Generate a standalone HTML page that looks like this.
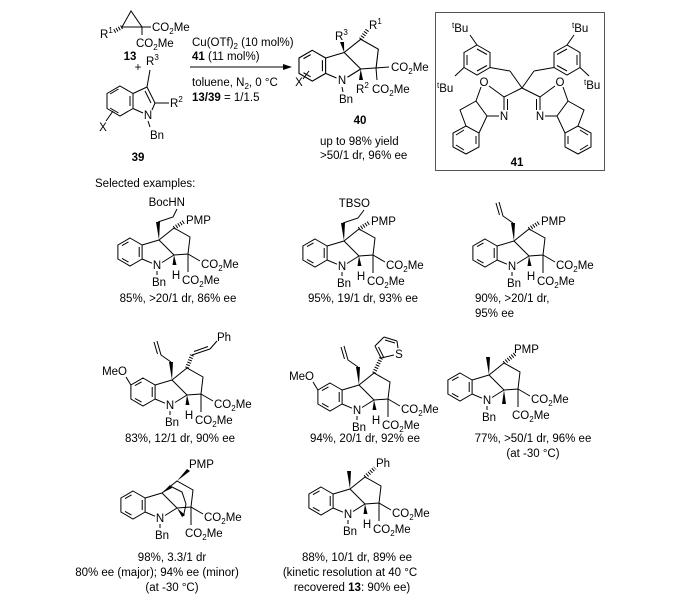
<!DOCTYPE html>
<html><head><meta charset="utf-8"><style>
html,body{margin:0;padding:0;background:#fff}
svg{display:block}
text{font-family:"Liberation Sans",Arial,sans-serif;font-size:11.5px;fill:#000}
.c{text-anchor:middle}
.e{text-anchor:end}
.b{font-weight:bold}
line,polyline,polygon.r{stroke:#000;stroke-width:1;fill:none}
.w{fill:#000;stroke:none}
.h{stroke:#000;stroke-width:4;stroke-dasharray:1 1.6;fill:none}
</style></head><body>
<svg width="700" height="603" viewBox="0 0 700 603" xmlns="http://www.w3.org/2000/svg">
<defs>
<g id="ring">
<polygon class="r" points="-27,-27 -14.9,-20 -14.9,-6 -27,1 -39.1,-6 -39.1,-20"/>
<line x1="-17.8" y1="-18" x2="-17.8" y2="-8"/>
<line x1="-28.5" y1="-2.9" x2="-35" y2="-6.6"/>
<line x1="-35" y1="-19.4" x2="-28.5" y2="-23.1"/>
<line x1="-14.9" y1="-20" x2="2" y2="-25"/>
<line x1="2" y1="-25" x2="17" y2="-10"/>
<line x1="17" y1="-10" x2="5" y2="-2.5"/>
<line x1="-14.9" y1="-6" x2="-5" y2="-1.8"/>
<polyline points="2,-25 17,-37 33,-28 31,-11 17,-10"/>
</g>
<g id="core">
<use href="#ring"/>
<line x1="0" y1="6" x2="0" y2="10"/>
<line x1="31" y1="-11" x2="43" y2="-4"/>
<line x1="31" y1="-11" x2="31" y2="7"/>
</g>
</defs>

<polygon class="r" points="122,27 131,11 142,27"/>
<line x1="142" y1="27" x2="151" y2="27"/>
<line x1="142" y1="27" x2="142" y2="35"/>
<line class="h" x1="122" y1="27" x2="113" y2="32"/>
<text x="100" y="38">R<tspan font-size="8" dy="-5">1</tspan></text>
<text x="152" y="31">CO<tspan font-size="8" dy="3">2</tspan><tspan dy="-3">Me</tspan></text>
<text x="136" y="47">CO<tspan font-size="8" dy="3">2</tspan><tspan dy="-3">Me</tspan></text>
<text x="130" y="60" class="c b">13</text>
<text x="138" y="71" class="c">+</text>

<polygon class="r" points="120,86 133,93.5 133,108.5 120,116 107,108.5 107,93.5"/>
<line x1="130" y1="96" x2="130" y2="106"/>
<line x1="118.5" y1="113" x2="110" y2="108"/>
<line x1="110" y1="94" x2="118.5" y2="89"/>
<line x1="133" y1="93.5" x2="147" y2="87"/>
<line x1="147" y1="87" x2="155" y2="103"/>
<line x1="145" y1="91" x2="151" y2="103"/>
<line x1="155" y1="103" x2="152" y2="110"/>
<line x1="133" y1="108.5" x2="143" y2="113"/>
<line x1="147" y1="87" x2="150" y2="70"/>
<line x1="155" y1="103" x2="169" y2="103"/>
<line x1="148" y1="121" x2="150" y2="127"/>
<line x1="106" y1="121" x2="113" y2="111"/>
<text x="148" y="119" class="c">N</text>
<text x="146" y="65">R<tspan font-size="8" dy="-5">3</tspan></text>
<text x="170" y="107">R<tspan font-size="8" dy="-5">2</tspan></text>
<text x="157" y="139" class="c">Bn</text>
<text x="103" y="131" class="c">X</text>
<text x="138" y="161" class="c b">39</text>

<line x1="190" y1="67" x2="285" y2="67"/>
<polygon class="w" points="292,67 283,64 283,70"/>
<text x="192" y="46">Cu(OTf)<tspan font-size="8" dy="3">2</tspan><tspan dy="-3"> (10 mol%)</tspan></text>
<text x="192" y="60"><tspan class="b">41</tspan> (11 mol%)</text>
<text x="192" y="86">toluene, N<tspan font-size="8" dy="3">2</tspan><tspan dy="-3">, 0 °C</tspan></text>
<text x="192" y="101"><tspan class="b">13/39</tspan> = 1/1.5</text>

<use href="#ring" transform="translate(342,80) scale(1.1)"/>
<text x="342" y="84" class="c">N</text>
<line x1="342" y1="87" x2="343" y2="92"/>
<text x="346" y="103" class="c">Bn</text>
<polygon class="w" points="344.2,52.5 340,42 344,42"/>
<text x="335" y="40">R<tspan font-size="8" dy="-5">3</tspan></text>
<line class="h" x1="360.7" y1="39.3" x2="368" y2="29"/>
<text x="369" y="29">R<tspan font-size="8" dy="-5">1</tspan></text>
<line x1="376" y1="68" x2="389" y2="67"/>
<text x="391" y="71">CO<tspan font-size="8" dy="3">2</tspan><tspan dy="-3">Me</tspan></text>
<line x1="376" y1="68" x2="377" y2="80"/>
<text x="372" y="93">CO<tspan font-size="8" dy="3">2</tspan><tspan dy="-3">Me</tspan></text>
<polygon class="w" points="360.7,69 359,80 363,80"/>
<text x="356" y="93">R<tspan font-size="8" dy="-5">2</tspan></text>
<line x1="303" y1="79" x2="309" y2="71"/>
<text x="299" y="86" class="c">X</text>
<text x="360" y="124" class="c b">40</text>
<text x="320" y="145">up to 98% yield</text>
<text x="320" y="159">&gt;50/1 dr, 96% ee</text>

<rect x="435.5" y="12.5" width="169" height="158" fill="none" stroke="#555" stroke-width="1"/>
<polygon class="r" points="477,45 490,52.5 490,67.5 477,75 464,67.5 464,52.5"/>
<line x1="477" y1="49" x2="487" y2="54.5"/>
<line x1="487" y1="65.5" x2="477" y2="71"/>
<line x1="467" y1="65" x2="467" y2="55"/>
<line x1="477" y1="45" x2="470" y2="35"/>
<line x1="464" y1="67.5" x2="455" y2="76"/>
<line x1="490" y1="67.5" x2="510" y2="71"/>
<line x1="510" y1="71" x2="522" y2="88"/>
<polygon class="r" points="567,45 554,52.5 554,67.5 567,75 580,67.5 580,52.5"/>
<line x1="567" y1="49" x2="557" y2="54.5"/>
<line x1="557" y1="65.5" x2="567" y2="71"/>
<line x1="577" y1="65" x2="577" y2="55"/>
<line x1="567" y1="45" x2="574" y2="35"/>
<line x1="580" y1="67.5" x2="589" y2="76"/>
<line x1="554" y1="67.5" x2="534" y2="71"/>
<line x1="534" y1="71" x2="522" y2="88"/>
<text x="452" y="32"><tspan font-size="8" dy="-4">t</tspan><tspan dy="4">Bu</tspan></text>
<text x="437" y="92"><tspan font-size="8" dy="-4">t</tspan><tspan dy="4">Bu</tspan></text>
<text x="572" y="32"><tspan font-size="8" dy="-4">t</tspan><tspan dy="4">Bu</tspan></text>
<text x="584" y="89"><tspan font-size="8" dy="-4">t</tspan><tspan dy="4">Bu</tspan></text>
<line x1="522" y1="88" x2="504" y2="97"/>
<line x1="489" y1="86" x2="504" y2="97"/>
<line x1="504" y1="97" x2="504" y2="110"/>
<line x1="507.5" y1="99" x2="507.5" y2="110"/>
<line x1="499" y1="116" x2="487" y2="116"/>
<polyline points="481,87 476,101 487,116"/>
<polyline points="476,101 460,110 466,126"/>
<line x1="487" y1="116" x2="479" y2="133"/>
<polygon class="r" points="466,126 479,133 479,147 466,154 453,147 453,133"/>
<line x1="476" y1="136" x2="476" y2="144"/>
<line x1="464" y1="150" x2="456" y2="145"/>
<line x1="456" y1="135" x2="464" y2="130"/>
<text x="484" y="86" class="c">O</text>
<text x="504" y="120" class="c">N</text>
<line x1="522" y1="88" x2="540" y2="97"/>
<line x1="555" y1="86" x2="540" y2="97"/>
<line x1="540" y1="97" x2="540" y2="110"/>
<line x1="536.5" y1="99" x2="536.5" y2="110"/>
<line x1="545" y1="116" x2="557" y2="116"/>
<polyline points="563,87 568,101 557,116"/>
<polyline points="568,101 584,110 578,126"/>
<line x1="557" y1="116" x2="565" y2="133"/>
<polygon class="r" points="578,126 565,133 565,147 578,154 591,147 591,133"/>
<line x1="568" y1="136" x2="568" y2="144"/>
<line x1="580" y1="150" x2="588" y2="145"/>
<line x1="588" y1="135" x2="580" y2="130"/>
<text x="560" y="86" class="c">O</text>
<text x="540" y="120" class="c">N</text>
<text x="517" y="166" class="c b">41</text>

<text x="95" y="187">Selected examples:</text>

<g transform="translate(157,265)">
<use href="#core"/>
<text x="0" y="4" class="c">N</text><text x="2" y="21" class="c">Bn</text>
<text x="44" y="3">CO<tspan font-size="8" dy="3">2</tspan><tspan dy="-3">Me</tspan></text>
<text x="25" y="19">CO<tspan font-size="8" dy="3">2</tspan><tspan dy="-3">Me</tspan></text>
<polygon class="w" points="17,-10 15.5,0 19.5,0"/><text x="19" y="14" class="c">H</text>
<line class="h" x1="17" y1="-37" x2="28" y2="-44"/><text x="29" y="-41">PMP</text>
<polygon class="w" points="2,-25 -1,-43 3,-43"/>
<polyline points="1,-43 16,-48 20,-56"/>
<text x="28" y="-59" class="e">BocHN</text>
</g>
<text x="178" y="302" class="c">85%, &gt;20/1 dr, 86% ee</text>

<g transform="translate(342,266)">
<use href="#core"/>
<text x="0" y="4" class="c">N</text><text x="2" y="21" class="c">Bn</text>
<text x="44" y="3">CO<tspan font-size="8" dy="3">2</tspan><tspan dy="-3">Me</tspan></text>
<text x="25" y="19">CO<tspan font-size="8" dy="3">2</tspan><tspan dy="-3">Me</tspan></text>
<polygon class="w" points="17,-10 15.5,0 19.5,0"/><text x="19" y="14" class="c">H</text>
<line class="h" x1="17" y1="-37" x2="28" y2="-44"/><text x="29" y="-41">PMP</text>
<polygon class="w" points="2,-25 -1,-43 3,-43"/>
<polyline points="1,-43 16,-48 22,-56"/>
<text x="28" y="-59" class="e">TBSO</text>
</g>
<text x="363" y="302" class="c">95%, 19/1 dr, 93% ee</text>

<g transform="translate(512,266)">
<use href="#core"/>
<text x="0" y="4" class="c">N</text><text x="2" y="21" class="c">Bn</text>
<text x="44" y="3">CO<tspan font-size="8" dy="3">2</tspan><tspan dy="-3">Me</tspan></text>
<text x="25" y="19">CO<tspan font-size="8" dy="3">2</tspan><tspan dy="-3">Me</tspan></text>
<polygon class="w" points="17,-10 15.5,0 19.5,0"/><text x="19" y="14" class="c">H</text>
<line class="h" x1="17" y1="-37" x2="28" y2="-44"/><text x="29" y="-41">PMP</text>
<polygon class="w" points="2,-25 -1,-43 3,-43"/>
<polyline points="1,-43 -9,-50 -13,-64"/>
<line x1="-12.5" y1="-51" x2="-16" y2="-63"/>
</g>
<text x="475" y="302">90%, &gt;20/1 dr,</text>
<text x="475" y="317">95% ee</text>

<g transform="translate(170,405)">
<use href="#core"/>
<text x="0" y="4" class="c">N</text><text x="2" y="21" class="c">Bn</text>
<text x="44" y="3">CO<tspan font-size="8" dy="3">2</tspan><tspan dy="-3">Me</tspan></text>
<text x="25" y="19">CO<tspan font-size="8" dy="3">2</tspan><tspan dy="-3">Me</tspan></text>
<polygon class="w" points="17,-10 15.5,0 19.5,0"/><text x="19" y="14" class="c">H</text>
<line x1="-39.1" y1="-20" x2="-44" y2="-28"/><text x="-43" y="-30" class="e">MeO</text>
<polygon class="w" points="2,-25 -1,-43 3,-43"/>
<polyline points="1,-43 -9,-50 -13,-64"/>
<line x1="-12.5" y1="-51" x2="-16" y2="-63"/>
<line class="h" x1="17" y1="-37" x2="22" y2="-50"/>
<line x1="22" y1="-50" x2="40" y2="-56"/>
<line x1="24" y1="-53.5" x2="38" y2="-58.5"/>
<line x1="40" y1="-56" x2="47" y2="-64"/>
<text x="47" y="-64">Ph</text>
</g>
<text x="180" y="442" class="c">83%, 12/1 dr, 90% ee</text>

<g transform="translate(357,410)">
<use href="#core"/>
<text x="0" y="4" class="c">N</text><text x="2" y="21" class="c">Bn</text>
<text x="44" y="3">CO<tspan font-size="8" dy="3">2</tspan><tspan dy="-3">Me</tspan></text>
<text x="25" y="19">CO<tspan font-size="8" dy="3">2</tspan><tspan dy="-3">Me</tspan></text>
<polygon class="w" points="17,-10 15.5,0 19.5,0"/><text x="19" y="14" class="c">H</text>
<line x1="-39.1" y1="-20" x2="-44" y2="-28"/><text x="-43" y="-30" class="e">MeO</text>
<polygon class="w" points="2,-25 -1,-43 3,-43"/>
<polyline points="1,-43 -9,-50 -13,-64"/>
<line x1="-12.5" y1="-51" x2="-16" y2="-63"/>
<line class="h" x1="17" y1="-37" x2="24" y2="-52"/>
<line x1="24" y1="-52" x2="18" y2="-64"/>
<line x1="27" y1="-52" x2="21.5" y2="-63"/>
<line x1="18" y1="-64" x2="27" y2="-73"/>
<line x1="27" y1="-73" x2="40" y2="-69"/>
<line x1="28" y1="-70" x2="38" y2="-67"/>
<line x1="40" y1="-69" x2="41" y2="-62"/>
<line x1="37" y1="-55" x2="24" y2="-52"/>
<text x="42" y="-52" class="c">S</text>
</g>
<text x="365" y="442" class="c">94%, 20/1 dr, 92% ee</text>

<g transform="translate(487,400)">
<use href="#core"/>
<text x="0" y="4" class="c">N</text><text x="2" y="21" class="c">Bn</text>
<text x="44" y="3">CO<tspan font-size="8" dy="3">2</tspan><tspan dy="-3">Me</tspan></text>
<text x="25" y="19">CO<tspan font-size="8" dy="3">2</tspan><tspan dy="-3">Me</tspan></text>
<polygon class="w" points="17,-10 15,4 19,4"/>
<polygon class="w" points="2,-25 -1,-43 3,-43"/>
<line class="h" x1="17" y1="-37" x2="28" y2="-46"/><text x="27" y="-47">PMP</text>
</g>
<text x="533" y="442" class="c">77%, &gt;50/1 dr, 96% ee</text>
<text x="533" y="457" class="c">(at -30 °C)</text>

<g transform="translate(160,518)">
<use href="#core"/>
<text x="0" y="4" class="c">N</text><text x="2" y="21" class="c">Bn</text>
<text x="44" y="3">CO<tspan font-size="8" dy="3">2</tspan><tspan dy="-3">Me</tspan></text>
<text x="25" y="19">CO<tspan font-size="8" dy="3">2</tspan><tspan dy="-3">Me</tspan></text>
<polygon class="w" points="2,-25 10,-33 12,-30"/>
<polyline points="11,-31.5 22,-26 26,-14"/>
<polygon class="w" points="17,-10 22,-1 25,-3"/>
<polyline points="23.5,-2 26,-14"/>
<polygon class="w" points="17,-37 27,-49 30,-47"/>
<text x="29" y="-50">PMP</text>
</g>
<text x="172" y="561" class="c">98%, 3.3/1 dr</text>
<text x="157" y="576" class="c">80% ee (major); 94% ee (minor)</text>
<text x="172" y="591" class="c">(at -30 °C)</text>

<g transform="translate(348,514)">
<use href="#core"/>
<text x="0" y="4" class="c">N</text><text x="2" y="21" class="c">Bn</text>
<text x="44" y="3">CO<tspan font-size="8" dy="3">2</tspan><tspan dy="-3">Me</tspan></text>
<text x="25" y="19">CO<tspan font-size="8" dy="3">2</tspan><tspan dy="-3">Me</tspan></text>
<polygon class="w" points="17,-10 15.5,0 19.5,0"/><text x="19" y="14" class="c">H</text>
<polygon class="w" points="2,-25 -1,-43 3,-43"/>
<line class="h" x1="17" y1="-37" x2="27" y2="-46"/><text x="28" y="-47">Ph</text>
</g>
<text x="357" y="561" class="c">88%, 10/1 dr, 89% ee</text>
<text x="350" y="576" class="c">(kinetic resolution at 40 °C</text>
<text x="352" y="591" class="c">recovered <tspan class="b">13</tspan>: 90% ee)</text>
</svg>
</body></html>
